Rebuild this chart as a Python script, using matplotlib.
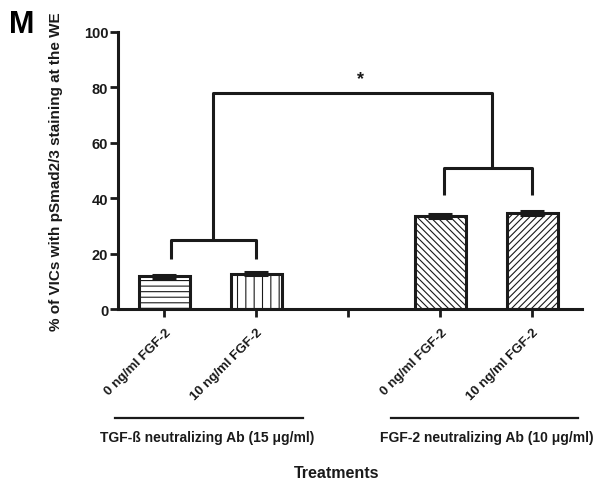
import matplotlib
matplotlib.use("Agg")
import matplotlib.pyplot as plt

plt.rcParams["font.family"] = ["Liberation Sans", "DejaVu Sans"]
plt.rcParams["font.weight"] = "bold"
plt.rcParams["hatch.linewidth"] = 0.8

INK = "#1a1a1a"

# bar data
bar_pos = [0, 1, 3, 4]
bar_vals = [11.8, 12.8, 33.6, 34.8]
bar_err = [0.5, 0.6, 0.8, 0.7]
bar_hatch = ["---", "||", "\\\\\\\\\\", "/////"]

tick_pos = [0, 1, 2, 3, 4]
tick_labels = ["0 ng/ml FGF-2", "10 ng/ml FGF-2", "", "0 ng/ml FGF-2", "10 ng/ml FGF-2"]
y_ticks = [0, 20, 40, 60, 80, 100]

# significance brackets (x in category units, y in %)
left_legs_x = [0.07, 1.0]
left_legs_y = [18, 25]
right_legs_x = [3.04, 4.0]
right_legs_y = [41, 51]
top_x = [0.53, 3.56]
top_y = 78
star_x, star_y = 2.13, 83

# treatment groups underneath
group_spans = [(-0.54, 1.505), (2.46, 4.49)]
group_centers = [0.46, 3.505]
group_labels = ["TGF-ß neutralizing Ab (15 μg/ml)", "FGF-2 neutralizing Ab (10 μg/ml)"]

fig = plt.figure(figsize=(5.97, 4.81), dpi=100)
ax = fig.add_axes([118 / 597, 1 - 310 / 481, 464 / 597, 277 / 481])

for x, v, e, h in zip(bar_pos, bar_vals, bar_err, bar_hatch):
    ax.bar(x, v, width=0.56, color="white", edgecolor=INK, linewidth=2.2,
           hatch=h, zorder=2)
    ax.errorbar(x, v, yerr=e, fmt="none", ecolor=INK, elinewidth=2.2,
                capsize=8.5, capthick=2.2, zorder=3)

lw = 2.2
# left bracket
ax.plot([left_legs_x[0], left_legs_x[0], left_legs_x[1], left_legs_x[1]],
        [left_legs_y[0], left_legs_y[1], left_legs_y[1], left_legs_y[0]],
        color=INK, lw=lw, solid_capstyle="butt")
# right bracket
ax.plot([right_legs_x[0], right_legs_x[0], right_legs_x[1], right_legs_x[1]],
        [right_legs_y[0], right_legs_y[1], right_legs_y[1], right_legs_y[0]],
        color=INK, lw=lw, solid_capstyle="butt")
# top bracket joining the two
ax.plot([top_x[0], top_x[0], top_x[1], top_x[1]],
        [left_legs_y[1], top_y, top_y, right_legs_y[1]],
        color=INK, lw=lw, solid_capstyle="butt")
ax.text(star_x, star_y, "*", ha="center", va="center", fontsize=13,
        fontweight="bold", color=INK)

ax.set_xlim(-0.505, 4.538)
ax.set_ylim(0, 100)
ax.set_yticks(y_ticks)
ax.set_yticklabels([str(t) for t in y_ticks], fontsize=10.5, fontweight="bold", color=INK)
ax.set_xticks(tick_pos)
ax.set_xticklabels(tick_labels, rotation=45, ha="right", va="top",
                   rotation_mode="anchor", fontsize=9.5, fontweight="bold", color=INK)
ax.tick_params(axis="y", width=2, length=6, color=INK, pad=1)
ax.tick_params(axis="x", width=2, length=6, color=INK, pad=6)

for s in ["top", "right"]:
    ax.spines[s].set_visible(False)
for s in ["left", "bottom"]:
    ax.spines[s].set_linewidth(2.2)
    ax.spines[s].set_color(INK)

ax.set_ylabel("% of VICs with pSmad2/3 staining at the WE", fontsize=11,
              fontweight="bold", color=INK)
ax.yaxis.set_label_coords(-0.118, 0.5)

trans = ax.get_xaxis_transform()
for (x0, x1), xc, lab in zip(group_spans, group_centers, group_labels):
    ax.plot([x0, x1], [-0.393, -0.393], transform=trans, color=INK, lw=1.6, clip_on=False)
    ax.text(xc, -0.462, lab, transform=trans, ha="center", va="center",
            fontsize=10, fontweight="bold", color=INK)

fig.text(337 / 597, 1 - 474 / 481, "Treatments", ha="center", va="center",
         fontsize=11.5, fontweight="bold", color=INK)
fig.text(9 / 597, 1 - 25 / 481, "M", ha="left", va="center", fontsize=22,
         fontweight="bold", color="black")

fig.savefig("out.png", dpi=100)
